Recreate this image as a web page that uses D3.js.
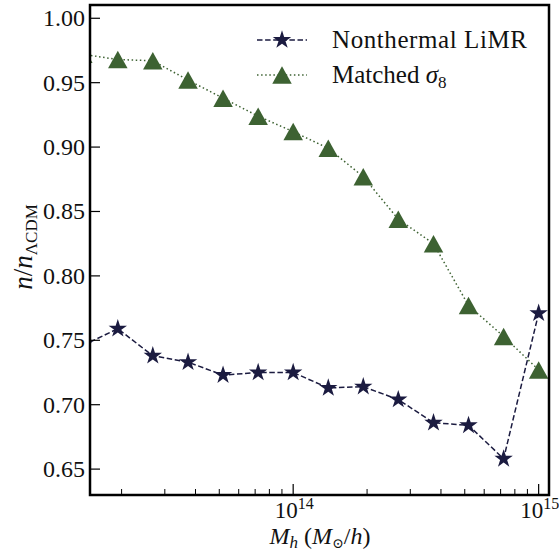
<!DOCTYPE html>
<html>
<head>
<meta charset="utf-8">
<script src="https://cdn.jsdelivr.net/npm/d3@7"></script>
<style>
  html, body { margin: 0; padding: 0; background: #fff; }
  svg { display: block; }
</style>
</head>
<body>
<svg id="chart" width="559" height="554" font-family="'Liberation Serif', 'Times New Roman', Times, 'DejaVu Serif', serif"></svg>
<script>
// ---------- data ----------
const haloMass = [1.39e13, 1.93e13, 2.68e13, 3.73e13, 5.18e13, 7.20e13, 1.00e14,
                  1.39e14, 1.93e14, 2.68e14, 3.73e14, 5.18e14, 7.20e14, 1.00e15];
const nonthermalLiMR = [0.746, 0.759, 0.738, 0.733, 0.723, 0.725, 0.725,
                        0.713, 0.714, 0.704, 0.686, 0.684, 0.658, 0.771];
const matchedSigma8 = [0.972, 0.968, 0.967, 0.952, 0.938, 0.924, 0.912,
                       0.899, 0.877, 0.844, 0.825, 0.777, 0.753, 0.727];
const yTicks = [0.65, 0.70, 0.75, 0.80, 0.85, 0.90, 0.95, 1.00];
const xMajorTicks = [1e14, 1e15];
const xMinorTicks = [2e13, 3e13, 4e13, 5e13, 6e13, 7e13, 8e13, 9e13,
                     2e14, 3e14, 4e14, 5e14, 6e14, 7e14, 8e14, 9e14];
const xDomain = [1.487e13, 1.102e15];
const yDomain = [0.6299, 1.0103];

const navy = "#1b1b40";
const green = "#3d6232";
const FONT = "'Liberation Serif', 'Times New Roman', Times, 'DejaVu Serif', serif";

// ---------- layout ----------
const svg = d3.select("#chart");
const L = 90, R = 549, T = 5, B = 495;
const x = d3.scaleLog().domain(xDomain).range([L, R]);
const y = d3.scaleLinear().domain(yDomain).range([B, T]);

svg.append("defs").append("clipPath").attr("id", "clip")
  .append("rect").attr("x", L).attr("y", T).attr("width", R - L).attr("height", B - T);

const plot = svg.append("g").attr("clip-path", "url(#clip)");

const series = [
  { name: "Nonthermal LiMR", values: nonthermalLiMR, color: navy, dash: "5.5,2.6", marker: "star" },
  { name: "Matched σ8", values: matchedSigma8, color: green, dash: "1.5,2.6", marker: "tri" }
];

const starPath = d3.symbol().type(d3.symbolStar).size(105)();
const triW = 19.5, triH = 17.5;
const triPath = `M0,${-triH/2}L${triW/2},${triH/2}L${-triW/2},${triH/2}Z`;

const line = d3.line().x(d => x(d[0])).y(d => y(d[1]));

series.forEach(s => {
  const pts = haloMass.map((m, i) => [m, s.values[i]]);
  plot.append("path")
    .attr("d", line(pts))
    .attr("fill", "none")
    .attr("stroke", s.color)
    .attr("stroke-width", 1.5)
    .attr("stroke-dasharray", s.dash);
  plot.selectAll(null).data(pts).enter().append("path")
    .attr("transform", d => `translate(${x(d[0])},${y(d[1])})`)
    .attr("d", s.marker === "star" ? starPath : triPath)
    .attr("fill", s.color);
});

function txt(sel) { return sel.append("text").attr("font-family", FONT).attr("fill", "#111"); }

// ---------- axes ----------
const axisG = svg.append("g");
yTicks.forEach(v => {
  axisG.append("line").attr("x1", L).attr("x2", L + 10)
    .attr("y1", y(v)).attr("y2", y(v)).attr("stroke", "#000").attr("stroke-width", 1.2);
  txt(axisG).attr("x", L - 5).attr("y", y(v) + 8)
    .attr("text-anchor", "end").attr("font-size", 24).text(v.toFixed(2));
});
xMajorTicks.forEach(v => {
  axisG.append("line").attr("x1", x(v)).attr("x2", x(v))
    .attr("y1", B).attr("y2", B - 11).attr("stroke", "#000").attr("stroke-width", 1.2);
  const t = txt(axisG).attr("x", x(v) + 1).attr("y", B + 22.5)
    .attr("text-anchor", "middle").attr("font-size", 23);
  t.append("tspan").text("10");
  t.append("tspan").attr("font-size", 16).attr("dy", -9).text(Math.round(Math.log10(v)));
});
xMinorTicks.forEach(v => {
  axisG.append("line").attr("x1", x(v)).attr("x2", x(v))
    .attr("y1", B).attr("y2", B - 6).attr("stroke", "#000").attr("stroke-width", 1);
});

// frame
svg.append("rect").attr("x", L).attr("y", T).attr("width", R - L).attr("height", B - T)
  .attr("fill", "none").attr("stroke", "#000").attr("stroke-width", 2.5);

// axis labels
const xl = txt(svg).attr("x", 320).attr("y", 544)
  .attr("text-anchor", "middle").attr("font-size", 24);
xl.append("tspan").attr("font-style", "italic").text("M");
xl.append("tspan").attr("font-style", "italic").attr("font-size", 17).attr("dy", 4).text("h");
xl.append("tspan").attr("dy", -4).text(" (");
xl.append("tspan").attr("font-style", "italic").text("M");
xl.append("tspan").attr("font-size", 14).attr("dy", 4).text("⊙");
xl.append("tspan").attr("dy", -4).text("/");
xl.append("tspan").attr("font-style", "italic").text("h");
xl.append("tspan").text(")");

const yl = txt(svg).attr("transform", "translate(32,247) rotate(-90)")
  .attr("text-anchor", "middle").attr("font-size", 27);
yl.append("tspan").attr("font-style", "italic").text("n");
yl.append("tspan").text("/");
yl.append("tspan").attr("font-style", "italic").text("n");
yl.append("tspan").attr("font-size", 17).attr("dy", 5).text("ΛCDM");

// legend
const lg = svg.append("g");
series.forEach((s, i) => {
  const yy = 40 + i * 35;
  lg.append("line").attr("x1", 257).attr("x2", 307).attr("y1", yy).attr("y2", yy)
    .attr("stroke", s.color).attr("stroke-width", 1.5).attr("stroke-dasharray", s.dash);
  lg.append("path").attr("transform", `translate(282,${yy})`)
    .attr("d", s.marker === "star" ? starPath : triPath).attr("fill", s.color);
  const t = txt(lg).attr("x", 332).attr("y", yy + 8).attr("font-size", 25);
  if (i === 0) {
    t.attr("textLength", 195).attr("lengthAdjust", "spacing").text(s.name);
  } else {
    t.append("tspan").text("Matched ");
    t.append("tspan").attr("font-style", "italic").text("σ");
    t.append("tspan").attr("font-size", 17).attr("dy", 5).text("8");
  }
});
</script>
</body>
</html>
